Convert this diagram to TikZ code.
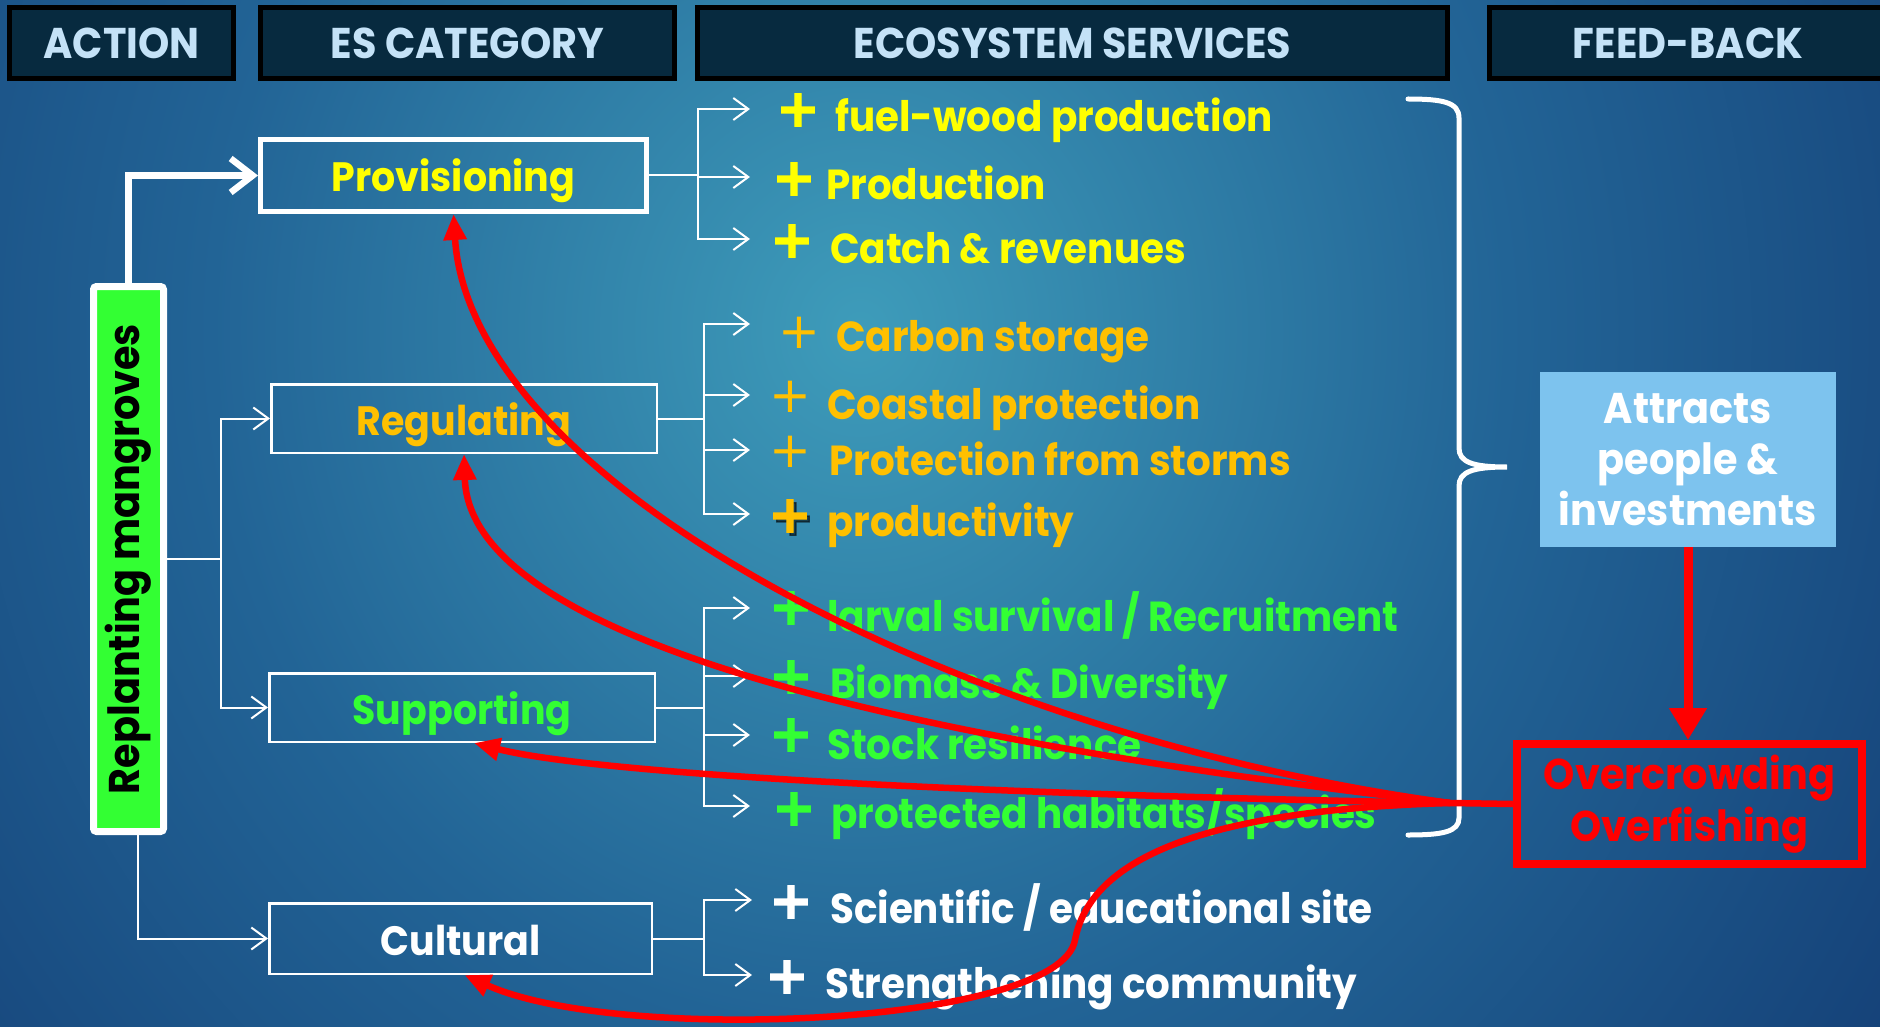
\documentclass[tikz,border=0pt]{standalone}
\usepackage{fontspec}
\usepackage{graphicx}
\setmainfont{Poppins}[FakeStretch=0.925]
\newfontfamily\plusfam{DejaVu Sans}
\newfontfamily\plusheavy{DejaVu Sans}[FakeBold=2.5]
\usetikzlibrary{arrows.meta}
\definecolor{bgc}{RGB}{62,156,186}
\definecolor{bgm}{RGB}{34,100,150}
\definecolor{bgo}{RGB}{12,42,100}
\definecolor{hdrfill}{RGB}{7,42,63}
\definecolor{hdrtext}{RGB}{196,226,247}
\definecolor{yel}{RGB}{255,255,0}
\definecolor{org}{RGB}{255,192,0}
\definecolor{grn}{RGB}{51,255,51}
\definecolor{ltblue}{RGB}{125,195,238}
\definecolor{redc}{RGB}{255,0,0}
\pgfdeclareradialshading{bgsh}{\pgfpoint{0bp}{0bp}}{color(0bp)=(bgc); color(10bp)=(bgm); color(25bp)=(bgo); color(50bp)=(bgo)}
\newcommand\hdrfont{\fontsize{43}{50}\selectfont\bfseries}
\newcommand\catfont{\fontsize{41}{50}\selectfont\bfseries}
\newcommand\itemfont{\fontsize{42}{51}\selectfont\bfseries}
\newcommand\plusB{\plusheavy\fontsize{52}{54}\selectfont\bfseries}
\newcommand\plusR{\plusfam\fontsize{50}{52}\selectfont}
\begin{document}
\begin{tikzpicture}[x=1pt,y=-1pt,
  hdr/.style={draw=black, line width=5pt, fill=hdrfill, text=hdrtext, font=\hdrfont, minimum height=71pt, inner sep=0pt},
  catbox/.style={draw=white, line width=2.5pt, inner sep=0pt, text height=33pt, text depth=0pt, font=\catfont},
  plusb/.style={font=\plusB, inner sep=0pt},
  plusr/.style={font=\plusR, inner sep=0pt},
  item/.style={anchor=base west, inner sep=0pt, font=\itemfont},
  treeline/.style={draw=white, line width=2pt},
  treearrow/.style={draw=white, line width=2pt, -{Straight Barb[length=15pt,width=22pt]}},
  bigarrow/.style={draw=white, line width=6.5pt, -{Straight Barb[length=22pt,width=34pt]}},
  redline/.style={draw=redc, line width=6.5pt},
  redarrow/.style={draw=redc, line width=6.5pt, -{Triangle[length=26pt,width=22pt]}}
]
\useasboundingbox (0,0) rectangle (1880,1027);
\clip (0,0) rectangle (1880,1027);
\fill[bgo] (0,0) rectangle (1880,1027);
\shade[shading=bgsh] (860,330) ellipse [x radius=1620pt, y radius=1750pt];

% headers
\node[hdr, minimum width=224pt] (hA) at (121.5,43) {ACTION};
\node[hdr, minimum width=414pt] (hE) at (467.5,43) {ES CATEGORY};
\node[hdr, minimum width=750pt] (hS) at (1072.5,43) {ECOSYSTEM SERVICES};
\node[hdr, minimum width=397pt] (hF) at (1688,43) {FEED-BACK};

% action box
\node[draw=white, line width=7pt, fill=grn, rounded corners=3pt, minimum width=70pt, minimum height=545pt, inner sep=0pt, font=\fontsize{43}{50}\selectfont\bfseries, text=black] (rep) at (128.5,559) {\rotatebox{90}{Replanting mangroves}};

% category boxes
\node[catbox, line width=5pt, minimum width=386pt, minimum height=72pt, text=yel] (prov) at (453.5,175.5) {Provisioning};
\node[catbox, minimum width=385.5pt, minimum height=68.5pt, text=org] (reg) at (464,418.5) {Regulating};
\node[catbox, minimum width=385.5pt, minimum height=68.5pt, text=grn] (sup) at (462,707.5) {Supporting};
\node[catbox, minimum width=382.5pt, minimum height=70.5pt, text=white] (cult) at (460.5,938.5) {Cultural};

% action connectors
\draw[bigarrow] (rep.north) |- (prov.west);
\coordinate (lj) at (221,559);
\draw[treeline] (rep.east) -- (lj);
\draw[treearrow] (lj) |- (reg.west);
\draw[treearrow] (lj) |- (sup.west);
\draw[treearrow] ([xshift=9.5pt]rep.south) |- (cult.west);

% service items
\node[plusb, text=yel] (p1) at (798,110) {+};
\node[item, text=yel] (t1) at (835,132) {fuel-wood production};
\node[plusb, text=yel] (p2) at (794,179) {+};
\node[item, text=yel] (t2) at (826,200) {Production};
\node[plusb, text=yel] (p3) at (792,241) {+};
\node[item, text=yel] (t3) at (830,263) {Catch \& revenues};

\node[plusr, text=org] (p4) at (799,333) {+};
\node[item, text=org] (t4) at (836,351) {Carbon storage};
\node[plusr, text=org] (p5) at (790,397) {+};
\node[item, text=org] (t5) at (827,419) {Coastal protection};
\node[plusr, text=org] (p6) at (790,452) {+};
\node[item, text=org] (t6) at (829,475) {Protection from storms};
\node[plusb, text=black, opacity=0.55] (p7s) at (793,519) {+};
\node[plusb, text=org] (p7) at (790,516) {+};
\node[item, text=org] (t7) at (827,536) {productivity};

\node[plusb, text=grn] (p8) at (791,608) {+};
\node[item, text=grn] (t8) at (827,631) {larval survival / Recruitment};
\node[plusb, text=grn] (p9) at (791,677) {+};
\node[item, text=grn] (t9) at (830,698) {Biomass \& Diversity};
\node[plusb, text=grn] (p10) at (791,735) {+};
\node[item, text=grn] (t10) at (827,759) {Stock resilience};
\node[plusb, text=grn] (p11) at (794,809) {+};
\node[item, text=grn] (t11) at (831,828) {protected habitats/species};

\node[plusb, text=white] (p12) at (791,902) {+};
\node[item, text=white] (t12) at (830,923) {Scientific / educational site};
\node[plusb, text=white] (p13) at (787,977) {+};
\node[item, text=white] (t13) at (825,998) {Strengthening community};

% service trees
\coordinate (jp) at (698,175.5);
\coordinate (a1) at (750,109);
\coordinate (a2) at (750,177);
\coordinate (a3) at (750,239);
\draw[treeline] (prov.east) -- (jp);
\draw[treearrow] (jp) |- (a1);
\draw[treearrow] (jp) |- (a2);
\draw[treearrow] (jp) |- (a3);

\coordinate (jr) at (704,418.5);
\coordinate (a4) at (750,324);
\coordinate (a5) at (750,395);
\coordinate (a6) at (750,450);
\coordinate (a7) at (750,514);
\draw[treeline] (reg.east) -- (jr);
\foreach \a in {a4,a5,a6,a7} \draw[treearrow] (jr) |- (\a);

\coordinate (js) at (704,707.5);
\coordinate (a8) at (750,608);
\coordinate (a9) at (750,676);
\coordinate (a10) at (750,735);
\coordinate (a11) at (750,806);
\draw[treeline] (sup.east) -- (js);
\foreach \a in {a8,a9,a10,a11} \draw[treearrow] (js) |- (\a);

\coordinate (jc) at (704,938.5);
\coordinate (a12) at (752,900);
\coordinate (a13) at (752,975);
\draw[treeline] (cult.east) -- (jc);
\foreach \a in {a12,a13} \draw[treearrow] (jc) |- (\a);

% brace
\draw[white, line width=5pt, line cap=round]
  (1408,99) .. controls (1442,99) and (1459,102) .. (1459,118) -- (1459,448)
  .. controls (1459,462) and (1472,467) .. (1507,467)
  .. controls (1472,467) and (1459,472) .. (1459,486) -- (1459,818)
  .. controls (1459,832) and (1442,835) .. (1408,835);

% feedback
\node[fill=ltblue, minimum width=296pt, minimum height=175pt, inner sep=0pt, align=center, text=white, font=\fontsize{43}{51}\selectfont\bfseries] (attr) at (1688,459.5) {Attracts\\people \&\\investments};
\node[draw=redc, line width=8pt, minimum width=345pt, minimum height=120pt, inner sep=0pt, align=center, text=redc, font=\fontsize{43}{52}\selectfont\bfseries] (over) at (1689.5,804) {Overcrowding\\Overfishing};
\draw[redc, line width=9pt, -{Triangle[length=32pt,width=36pt]}] (attr.south) -- (attr.south |- over.north);

% feedback curves
\coordinate (hub) at (1450,803);
\draw[redline] (over.west) -- (hub);
\draw[redarrow] (hub) .. controls (950,735) and (470,480) .. (prov.south);
\draw[redarrow] (hub) .. controls (900,740) and (470,640) .. (reg.south);
\draw[redarrow] (hub) .. controls (1000,795) and (600,775) .. ([xshift=12pt]sup.south);
\draw[redarrow] (hub) .. controls (1200,810) and (1090,860) .. (1075,940) .. controls (1060,1025) and (620,1045) .. ([xshift=4pt]cult.south);
\end{tikzpicture}
\end{document}
